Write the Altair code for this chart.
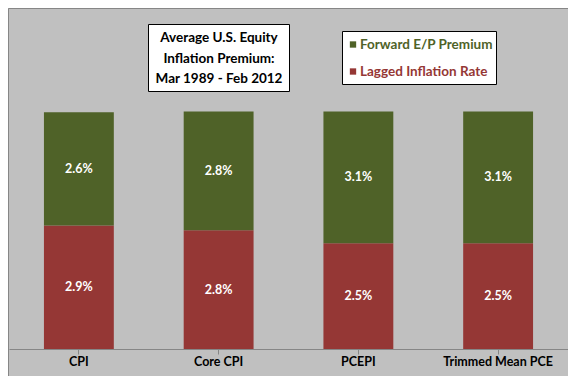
import altair as alt
import pandas as pd

categories = ["CPI", "Core CPI", "PCEPI", "Trimmed Mean PCE"]
lagged_inflation = [2.87, 2.76, 2.46, 2.46]
forward_ep_premium = [2.63, 2.76, 3.06, 3.06]
series_names = ["Lagged Inflation Rate", "Forward E/P Premium"]
series_colors = ["#953735", "#4F6228"]
title_lines = ["Average U.S. Equity", "Inflation Premium:", "Mar 1989 - Feb 2012"]

FONT = "Lato"

rows = []
for i, c in enumerate(categories):
    base = 0.0
    for s_idx, (s, vals) in enumerate(zip(series_names, [lagged_inflation, forward_ep_premium])):
        v = vals[i]
        rows.append({"category": c, "series": s, "value": v, "order": s_idx,
                     "mid": base + v / 2})
        base += v
df = pd.DataFrame(rows)

xenc = alt.X("category:N", sort=categories,
             scale=alt.Scale(paddingInner=0.5, paddingOuter=0.25),
             axis=alt.Axis(title=None, labelAngle=0, labelFont=FONT, labelFontSize=12.5,
                           labelFontWeight="bold", labelColor="#000000",
                           domainColor="#868686", tickColor="#868686", tickSize=5,
                           labelPadding=1, grid=False))
yscale = alt.Scale(domain=[0, 7.9], nice=False)

bars = alt.Chart(df).mark_bar().encode(
    x=xenc,
    y=alt.Y("value:Q", stack="zero", scale=yscale, axis=None),
    color=alt.Color("series:N", scale=alt.Scale(domain=series_names, range=series_colors), legend=None),
    order=alt.Order("order:Q"),
)

labels = alt.Chart(df).transform_calculate(
    label="format(datum.value, '.1f') + '%'"
).mark_text(color="white", font=FONT, fontWeight="bold", fontSize=12.5, baseline="middle").encode(
    x=alt.X("category:N", sort=categories, scale=alt.Scale(paddingInner=0.5, paddingOuter=0.25)),
    y=alt.Y("mid:Q", scale=yscale, axis=None),
    text="label:N",
)

one = pd.DataFrame({"k": [0]})

border = alt.Chart(one).mark_rect(fill=None, stroke="#868686", strokeWidth=1).encode(
    x=alt.value(-0.5), x2=alt.value(600), y=alt.value(-0.5), y2=alt.value(400))

title_box = alt.Chart(one).mark_rect(fill="white", stroke="black", strokeWidth=1).encode(
    x=alt.value(139.5), x2=alt.value(280.5), y=alt.value(15.5), y2=alt.value(82.5))

title_df = pd.DataFrame({"line": title_lines, "py": [28.5, 49.5, 70.0]})
title_text = alt.Chart(title_df).mark_text(
    font=FONT, fontWeight="bold", fontSize=13.5, color="black",
    align="center", baseline="middle").encode(
    x=alt.value(210), y=alt.Y("py:Q", scale=None, axis=None), text="line:N")

legend_box = alt.Chart(one).mark_rect(fill="white", stroke="black", strokeWidth=1).encode(
    x=alt.value(333.5), x2=alt.value(487.5), y=alt.value(22.5), y2=alt.value(75.5))

leg_df = pd.DataFrame({
    "name": [series_names[1], series_names[0]],
    "color": [series_colors[1], series_colors[0]],
    "py": [35.5, 62.5],
})
leg_sq = alt.Chart(leg_df).mark_square(size=40, opacity=1).encode(
    x=alt.value(344), y=alt.Y("py:Q", scale=None, axis=None),
    color=alt.Color("color:N", scale=None))
leg_txt = alt.Chart(leg_df).mark_text(
    font=FONT, fontWeight="bold", fontSize=13.5, align="left", baseline="middle").encode(
    x=alt.value(351), y=alt.Y("py:Q", scale=None, axis=None),
    text="name:N", color=alt.Color("color:N", scale=None))

chart = alt.layer(border, bars, labels, title_box, title_text, legend_box, leg_sq, leg_txt).properties(
    width=559, height=340,
    autosize=alt.AutoSizeParams(type="none"),
    padding={"left": 1, "top": 1, "right": 0, "bottom": 27},
    background="#C0C0C0",
).configure_view(stroke=None)

chart.save("out.html", embed_options={"renderer": "svg", "actions": False})
